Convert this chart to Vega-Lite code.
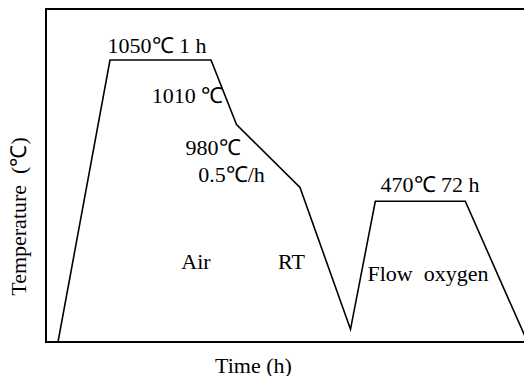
{
  "$schema": "https://vega.github.io/schema/vega-lite/v6.json",
  "width": 480,
  "height": 333,
  "autosize": {"type": "none"},
  "padding": {"left": 46, "top": 9, "right": 0, "bottom": 34},
  "background": "white",
  "config": {
    "view": {"stroke": "black", "strokeWidth": 2},
    "font": "Liberation Serif"
  },
  "datasets": {
    "profile": [
      {"t": 12, "temp": 0},
      {"t": 64, "temp": 282},
      {"t": 165, "temp": 282},
      {"t": 190.5, "temp": 217.5},
      {"t": 254, "temp": 154.5},
      {"t": 304.5, "temp": 12.7},
      {"t": 329.3, "temp": 140.7},
      {"t": 419.3, "temp": 140.7},
      {"t": 481.5, "temp": 0}
    ],
    "labels": [
      {"t": 111, "temp": 289, "label": "1050℃ 1 h"},
      {"t": 141.5, "temp": 239, "label": "1010 ℃"},
      {"t": 167, "temp": 187, "label": "980℃"},
      {"t": 185.5, "temp": 160.5, "label": "0.5℃/h"},
      {"t": 384, "temp": 150.5, "label": "470℃ 72 h"},
      {"t": 150, "temp": 73, "label": "Air"},
      {"t": 245.5, "temp": 73, "label": "RT"},
      {"t": 382, "temp": 60.7, "label": "Flow\u00a0 oxygen"}
    ]
  },
  "layer": [
    {
      "data": {"name": "profile"},
      "mark": {"type": "line", "color": "black", "strokeWidth": 1.6, "clip": true},
      "encoding": {
        "x": {
          "field": "t", "type": "quantitative",
          "scale": {"domain": [0, 480], "nice": false, "zero": false},
          "axis": {
            "domain": false, "ticks": false, "labels": false, "grid": false,
            "title": "Time (h)", "titleFont": "Liberation Serif", "titleFontSize": 22,
            "titleFontWeight": "normal", "titleColor": "black",
            "titleX": 207, "titleY": 30, "titleAlign": "center", "titleBaseline": "alphabetic"
          }
        },
        "y": {
          "field": "temp", "type": "quantitative",
          "scale": {"domain": [0, 333], "nice": false, "zero": false},
          "axis": {
            "domain": false, "ticks": false, "labels": false, "grid": false,
            "title": "Temperature\u00a0 (℃)", "titleFont": "Liberation Serif", "titleFontSize": 22,
            "titleFontWeight": "normal", "titleColor": "black",
            "titleAngle": -90, "titleX": -21, "titleY": 207,
            "titleAlign": "center", "titleBaseline": "alphabetic"
          }
        }
      }
    },
    {
      "data": {"name": "labels"},
      "mark": {"type": "text", "align": "center", "baseline": "alphabetic", "font": "Liberation Serif", "fontSize": 22, "color": "black"},
      "encoding": {
        "x": {"field": "t", "type": "quantitative"},
        "y": {"field": "temp", "type": "quantitative"},
        "text": {"field": "label"}
      }
    }
  ]
}
